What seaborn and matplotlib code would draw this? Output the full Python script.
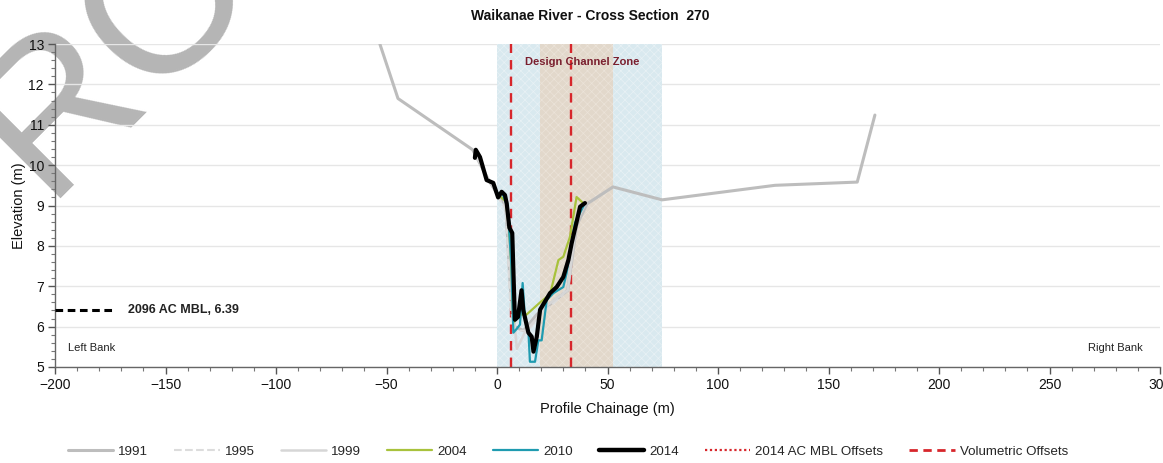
import matplotlib
matplotlib.use("Agg")
import matplotlib.pyplot as plt
import seaborn as sns
from matplotlib.lines import Line2D
from matplotlib.ticker import MultipleLocator

# ---------------- data ----------------
x_1991 = [-53, -44.8, -11, -4, 0, 4, 6, 8, 12, 18, 25, 32, 36, 40.7, 52.5, 74.7, 125.8, 163, 171]
y_1991 = [13.0, 11.65, 10.38, 9.65, 9.3, 9.0, 7.0, 6.0, 5.9, 6.3, 6.6, 6.9, 8.5, 9.04, 9.46, 9.14, 9.5, 9.58, 11.24]

x_1995 = [0, 4, 6, 8, 14, 20, 30, 34, 38]
y_1995 = [9.25, 8.9, 6.5, 5.9, 5.9, 6.3, 6.8, 8.0, 9.0]

x_1999 = [-10, -4, 0, 3, 5, 7, 9, 13, 18, 22, 32, 36, 40]
y_1999 = [10.3, 9.65, 9.3, 9.25, 8.5, 6.6, 5.45, 5.9, 6.2, 6.5, 6.9, 8.6, 9.05]

x_2004 = [0, 2, 4, 5.5, 6.5, 7.4, 10, 13.4, 19.5, 24, 27.8, 30, 33, 36, 39]
y_2004 = [9.25, 9.2, 9.1, 8.4, 7.5, 6.1, 6.3, 6.3, 6.6, 6.8, 7.65, 7.73, 8.22, 9.21, 9.06]

x_2010 = [0, 2.5, 4.5, 5.5, 6.5, 7.4, 9, 10.4, 11.6, 12.7, 14.2, 14.9, 17.2, 18.7, 20.2, 22.5, 25.5, 30, 31.5, 35.3, 39.8]
y_2010 = [9.3, 9.3, 9.0, 8.4, 7.5, 5.85, 5.95, 6.05, 7.08, 6.17, 5.9, 5.13, 5.13, 5.66, 5.66, 6.66, 6.83, 6.98, 7.33, 8.57, 9.06]

x_2014 = [-10, -9.6, -7.7, -4.7, -1.7, 0.5, 2.1, 3.6, 4.4, 5.6, 6.9, 7.4, 8.1, 9.5, 11.1, 11.9, 14.2,
          15.7, 16.5, 18, 19.5, 24, 27, 30, 32.3, 33.8, 37.6, 39.8]
y_2014 = [10.18, 10.38, 10.2, 9.63, 9.56, 9.2, 9.34, 9.26, 9.05, 8.45, 8.32, 7.41, 6.17, 6.24, 6.9, 6.41, 5.85,
          5.75, 5.38, 5.75, 6.42, 6.83, 6.98, 7.23, 7.65, 8.07, 8.97, 9.06]

series_labels = ["1991", "1995", "1999", "2004", "2010", "2014"]
series_x = [x_1991, x_1995, x_1999, x_2004, x_2010, x_2014]
series_y = [y_1991, y_1995, y_1999, y_2004, y_2010, y_2014]

mbl_x = [-200, -174]
mbl_y = [6.42, 6.42]
mbl_label = "2096 AC MBL, 6.39"

offset_mbl_x = [6.3]
offset_vol_x = [33.5]
zone_outer = [0, 74.5]
zone_inner = [19.5, 52.5]

x_ticks = [-200, -150, -100, -50, 0, 50, 100, 150, 200, 250, 300]
y_ticks = [5, 6, 7, 8, 9, 10, 11, 12, 13]

# ---------------- styles ----------------
styles = {
    "1991": dict(color="#bdbdbd", lw=2.2, ls="-", z=3),
    "1995": dict(color="#dcdcdc", lw=1.5, ls="--", z=4),
    "1999": dict(color="#d6d6d6", lw=1.8, ls="-", z=4),
    "2004": dict(color="#a8c23c", lw=1.6, ls="-", z=5),
    "2010": dict(color="#1f9bb0", lw=1.6, ls="-", z=6),
    "2014": dict(color="#000000", lw=3.0, ls="-", z=7),
}
red = "#d7262b"

sns.set_style("white")
plt.rcParams["font.family"] = ["Liberation Sans", "DejaVu Sans"]
plt.rcParams["hatch.linewidth"] = 0.5

fig = plt.figure(figsize=(11.63, 4.63), dpi=100)
ax = fig.add_axes([55 / 1163, 1 - 367 / 463, (1160 - 55) / 1163, (367 - 44) / 463])
ax.patch.set_alpha(0)

# watermark
fig.text(115 / 1163, 1 - 52 / 463, "RO", fontsize=148, color="#b5b5b5",
         rotation=45, ha="center", va="center", rotation_mode="anchor", zorder=-1)

# zones
ax.axvspan(zone_outer[0], zone_outer[1], facecolor="#d9e9ef", edgecolor="#e8f1f5",
           hatch="xxxx", lw=0, zorder=1)
ax.axvspan(zone_inner[0], zone_inner[1], facecolor="#e2d8cb", edgecolor="#ebe3d9",
           hatch="xxxx", lw=0, zorder=1.5)

# offsets
for xv in offset_mbl_x + offset_vol_x:
    ax.axvline(xv, color=red, lw=1.7, ls=(0, (4, 3)), zorder=2.5)

for lab, xs, ys in zip(series_labels, series_x, series_y):
    st = styles[lab]
    sns.lineplot(x=xs, y=ys, sort=False, estimator=None, ax=ax, color=st["color"],
                 linewidth=st["lw"], linestyle=st["ls"], zorder=st["z"], legend=False)

# MBL line
ax.plot(mbl_x, mbl_y, color="black", lw=2.2, ls=(0, (2.5, 1.5)), zorder=6, clip_on=False)
ax.text(-167, 6.42, mbl_label, fontsize=9, fontweight="bold", color="#222222", va="center")

ax.text(38.5, 12.55, "Design Channel Zone", fontsize=8, fontweight="bold",
        color="#7a1f2e", ha="center", va="center", zorder=8)
ax.text(-194, 5.47, "Left Bank", fontsize=8, color="#222222", va="center")
ax.text(292, 5.47, "Right Bank", fontsize=8, color="#222222", va="center", ha="right")

ax.set_xlim(-200, 300)
ax.set_ylim(5, 13)
ax.set_xticks(x_ticks)
ax.set_yticks(y_ticks)
ax.xaxis.set_minor_locator(MultipleLocator(10))
ax.yaxis.set_minor_locator(MultipleLocator(0.2))
ax.tick_params(axis="both", which="major", direction="out", length=5, width=1,
               color="#555555", labelsize=10, labelcolor="#111111", pad=3,
               bottom=True, left=True)
ax.tick_params(axis="both", which="minor", direction="out", length=3, width=0.8,
               color="#777777", bottom=True, left=True)
ax.grid(axis="y", which="major", color="#e6e6e6", lw=1, zorder=0)
ax.set_axisbelow(True)
for s in ["top", "right"]:
    ax.spines[s].set_visible(False)
for s in ["left", "bottom"]:
    ax.spines[s].set_color("#666666")
    ax.spines[s].set_linewidth(1)

ax.set_xlabel("Profile Chainage (m)", fontsize=10.5, color="#111111", labelpad=7)
ax.set_ylabel("Elevation (m)", fontsize=10.5, color="#111111", labelpad=2)

fig.text(590 / 1163, 1 - 16 / 463, "Waikanae River - Cross Section  270", fontsize=10,
         fontweight="bold", ha="center", va="center", color="#111111")

handles = [Line2D([], [], color=styles[l]["color"], lw=min(styles[l]["lw"], 2.2) if l != "2014" else 3.2,
                  ls=styles[l]["ls"]) for l in series_labels]
handles.append(Line2D([], [], color=red, lw=1.6, ls=(0, (1, 1.2))))
handles.append(Line2D([], [], color=red, lw=2, ls=(0, (3, 2))))
labels = series_labels + ["2014 AC MBL Offsets", "Volumetric Offsets"]
fig.legend(handles, labels, loc="center", bbox_to_anchor=(568 / 1163, 1 - 452 / 463),
           ncol=8, frameon=False, fontsize=9.6, handlelength=3.4, handletextpad=0.38,
           columnspacing=1.95)

fig.savefig("out.png", dpi=100)
